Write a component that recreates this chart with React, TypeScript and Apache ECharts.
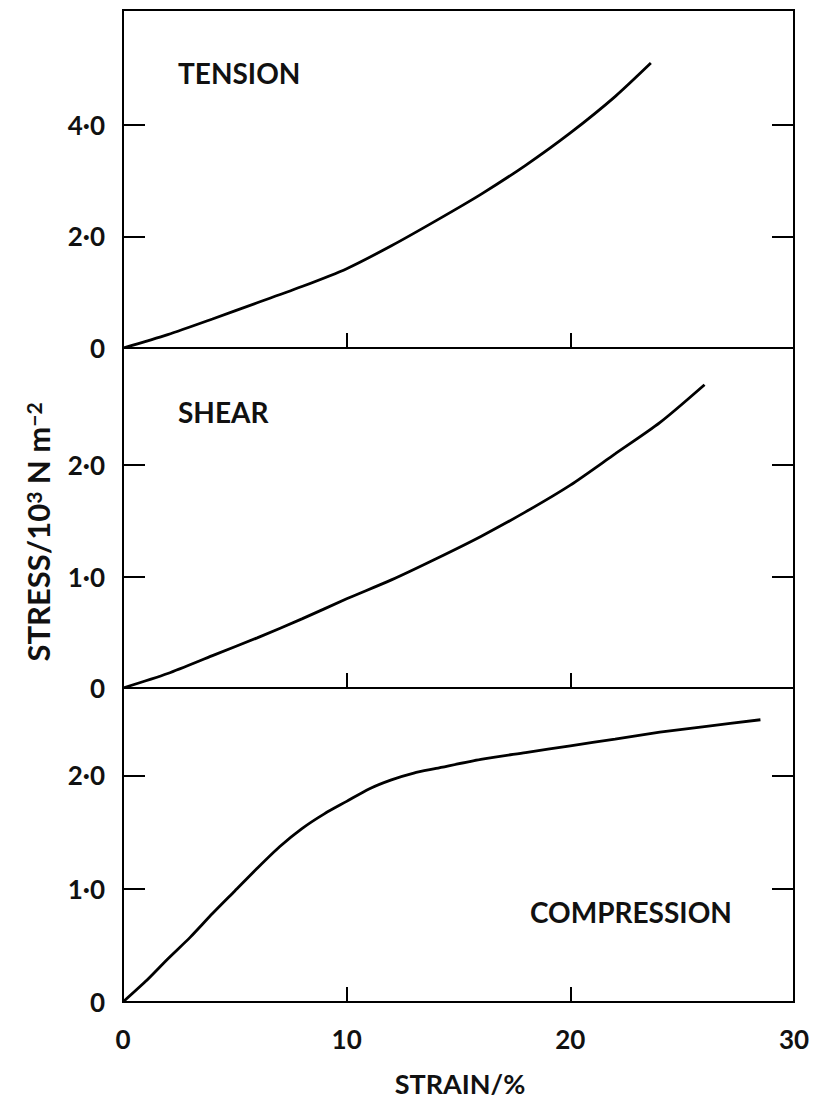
import React, { useEffect, useRef } from "react";
import * as echarts from "echarts";

// Strain (%) / stress (10^3 N m^-2) readings for each loading mode
const tensionStrain = [0, 2, 4, 6, 8, 10, 12, 14, 16, 18, 20, 22, 23.6];
const tensionStress = [0, 0.24, 0.52, 0.81, 1.1, 1.42, 1.83, 2.28, 2.75, 3.27, 3.85, 4.5, 5.1];

const shearStrain = [0, 2, 4, 6, 8, 10, 12, 14, 16, 18, 20, 22, 24, 26];
const shearStress = [0, 0.13, 0.29, 0.45, 0.62, 0.8, 0.97, 1.16, 1.36, 1.58, 1.82, 2.1, 2.38, 2.72];

const compressionStrain = [0, 1, 2, 3, 4, 5, 6, 7, 8, 9, 10, 11, 12, 13, 14, 16, 18, 20, 22, 24, 26, 28.5];
const compressionStress = [0, 0.18, 0.38, 0.57, 0.78, 0.98, 1.18, 1.37, 1.53, 1.66, 1.77, 1.88, 1.96, 2.02, 2.06, 2.14, 2.2, 2.26, 2.32, 2.38, 2.43, 2.49];

const strainTicks = [0, 10, 20, 30];
const tensionTicks = [0, 2, 4];
const shearTicks = [0, 1, 2];
const compressionTicks = [0, 1, 2];
const panelMax = [6.05, 3.05, 2.77];

const FONT = "Lato";

const fmtStress = (v: number) => (v === 0 ? "0" : v.toFixed(1).replace(".", "\u00b7"));

const pairs = (xs: number[], ys: number[]) => xs.map((x, i) => [x, ys[i]]);

export default function App() {
  const ref = useRef<HTMLDivElement>(null);

  useEffect(() => {
    if (!ref.current) return;
    const chart = echarts.init(ref.current, null, { renderer: "svg" });

    const grids = [
      { left: 123, width: 671, top: 10, height: 338 },
      { left: 123, width: 671, top: 348, height: 340 },
      { left: 123, width: 671, top: 688, height: 314 },
    ];
    const tickSets = [tensionTicks, shearTicks, compressionTicks];

    const xAxes = grids.map((_, i) => ({
      type: "value",
      gridIndex: i,
      min: 0,
      max: 30,
      interval: 10,
      axisLine: { show: true, lineStyle: { color: "#000", width: 2 } },
      axisTick: {
        show: true,
        inside: true,
        length: 15,
        lineStyle: { color: "#000", width: 2 },
        customValues: [10, 20],
      },
      axisLabel: {
        show: i === 2,
        customValues: strainTicks,
        margin: 24,
        fontFamily: FONT,
        fontSize: 26,
        fontWeight: "bold",
        color: "#111",
      },
      splitLine: { show: false },
    }));

    const yAxes: any[] = [];
    grids.forEach((_, i) => {
      const ticks = tickSets[i];
      yAxes.push({
        type: "value",
        gridIndex: i,
        min: 0,
        max: panelMax[i],
        position: "left",
        axisLine: { show: true, lineStyle: { color: "#000", width: 2 } },
        axisTick: {
          show: true,
          inside: true,
          length: 22,
          lineStyle: { color: "#000", width: 2 },
          customValues: ticks.slice(1),
        },
        axisLabel: {
          show: true,
          customValues: ticks,
          formatter: (v: number) => fmtStress(v),
          margin: 18,
          fontFamily: FONT,
          fontSize: 26,
          fontWeight: "bold",
          color: "#111",
        },
        splitLine: { show: false },
      });
      yAxes.push({
        type: "value",
        gridIndex: i,
        min: 0,
        max: panelMax[i],
        position: "right",
        axisLine: { show: true, lineStyle: { color: "#000", width: 2 } },
        axisTick: {
          show: true,
          inside: true,
          length: 22,
          lineStyle: { color: "#000", width: 2 },
          customValues: ticks.slice(1),
        },
        axisLabel: { show: false },
        splitLine: { show: false },
      });
    });

    const curve = (data: number[][], i: number) => ({
      type: "line",
      xAxisIndex: i,
      yAxisIndex: i * 2,
      data,
      showSymbol: false,
      smooth: 0.25,
      lineStyle: { color: "#000", width: 2.8 },
    });

    const panelLabel = (text: string, x: number, y: number) => ({
      type: "text",
      left: x,
      top: y,
      style: {
        text,
        font: `bold 28px ${FONT}`,
        fill: "#111",
      },
    });

    chart.setOption({
      animation: false,
      backgroundColor: "#fff",
      grid: grids.map((g) => ({
        ...g,
        show: true,
        borderColor: "#000",
        borderWidth: 2,
        containLabel: false,
      })),
      xAxis: xAxes,
      yAxis: yAxes,
      series: [
        curve(pairs(tensionStrain, tensionStress), 0),
        curve(pairs(shearStrain, shearStress), 1),
        curve(pairs(compressionStrain, compressionStress), 2),
      ],
      graphic: [
        panelLabel("TENSION", 178, 59),
        panelLabel("SHEAR", 178, 398),
        panelLabel("COMPRESSION", 530, 898),
        {
          type: "text",
          x: 460,
          y: 1083,
          style: {
            text: "STRAIN/%",
            font: `bold 27px ${FONT}`,
            fill: "#111",
            align: "center",
            verticalAlign: "middle",
          },
        },
        {
          type: "text",
          x: 38,
          y: 532,
          rotation: Math.PI / 2,
          style: {
            text: "{b|STRESS/10}{s|3}{b| N m}{s|\u22122}",
            align: "center",
            verticalAlign: "middle",
            rich: {
              b: { font: `bold 31px ${FONT}`, fill: "#111", verticalAlign: "bottom" },
              s: { font: `bold 21px ${FONT}`, fill: "#111", verticalAlign: "top" },
            },
          },
        },
      ],
    });

    return () => chart.dispose();
  }, []);

  return (
    <div
      ref={ref}
      style={{ position: "absolute", left: 0, top: 0, width: 817, height: 1105, background: "#fff" }}
    />
  );
}
